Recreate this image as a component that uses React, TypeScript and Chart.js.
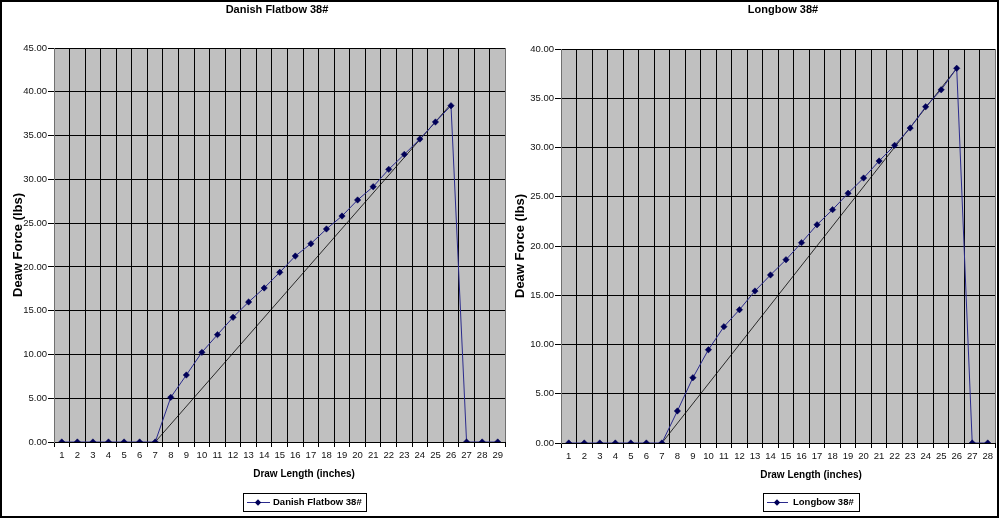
import React, { useEffect, useRef } from 'react';
import { Chart, registerables } from 'chart.js';

Chart.register(...registerables);

// ---------- Data ----------
const flatbowLengths = ['1', '2', '3', '4', '5', '6', '7', '8', '9', '10', '11', '12', '13', '14', '15', '16', '17', '18', '19', '20', '21', '22', '23', '24', '25', '26', '27', '28', '29'];
const flatbowForce = [0, 0, 0, 0, 0, 0, 0, 5.1, 7.65, 10.24, 12.26, 14.24, 15.99, 17.59, 19.38, 21.24, 22.65, 24.33, 25.81, 27.64, 29.16, 31.14, 32.85, 34.6, 36.55, 38.41, 0, 0, 0];
const flatbowReference = [null, null, null, null, null, null, 0, null, null, null, null, null, null, null, null, null, null, null, null, null, null, null, null, null, null, 38.6, null, null, null];
const flatbowYTicks = { min: 0, max: 45, step: 5 };

const longbowLengths = ['1', '2', '3', '4', '5', '6', '7', '8', '9', '10', '11', '12', '13', '14', '15', '16', '17', '18', '19', '20', '21', '22', '23', '24', '25', '26', '27', '28'];
const longbowForce = [0, 0, 0, 0, 0, 0, 0, 3.25, 6.63, 9.47, 11.81, 13.53, 15.43, 17.06, 18.61, 20.34, 22.16, 23.69, 25.35, 26.9, 28.63, 30.22, 31.98, 34.14, 35.86, 38.04, 0, 0];
const longbowReference = [null, null, null, null, null, null, 0, null, null, null, null, null, null, null, null, null, null, null, null, null, null, null, null, null, null, 38.04, null, null];
const longbowYTicks = { min: 0, max: 40, step: 5 };

const xAxisTitle = 'Draw Length (inches)';
const yAxisTitle = 'Deaw Force (lbs)';

const FONT = "'Liberation Sans', Arial, sans-serif";
const SERIES_LINE = '#2a2a8c';
const SERIES_POINT = '#000058';

type Layout = {
  width: number;
  height: number;
  pad: { top: number; right: number; left: number };
  yWidth: number;
  xHeight: number;
  titleX: number;
  titleY: number;
  xTitleX: number;
  xTitleY: number;
  yTitleX: number;
  legend: { x: number; y: number; w: number; h: number; lineFrom: number; lineTo: number; marker: number; text: number };
};

function makeDecor(title: string, seriesName: string, L: Layout) {
  return {
    id: 'decor',
    beforeDraw(chart: any) {
      const { ctx, chartArea: a } = chart;
      ctx.save();
      ctx.fillStyle = '#c0c0c0';
      ctx.fillRect(a.left, a.top, a.right - a.left, a.bottom - a.top);
      ctx.restore();
    },
    beforeDatasetsDraw(chart: any) {
      const { ctx, chartArea: a } = chart;
      ctx.save();
      ctx.strokeStyle = '#707070';
      ctx.lineWidth = 1;
      ctx.beginPath();
      ctx.moveTo(Math.round(a.left) + 0.5, a.top);
      ctx.lineTo(Math.round(a.left) + 0.5, a.bottom);
      ctx.moveTo(Math.round(a.right) - 0.5, a.top);
      ctx.lineTo(Math.round(a.right) - 0.5, a.bottom);
      ctx.stroke();
      ctx.restore();
    },
    afterDraw(chart: any) {
      const { ctx, chartArea: a } = chart;
      ctx.save();
      ctx.fillStyle = '#000';
      ctx.textAlign = 'center';
      ctx.textBaseline = 'middle';
      // Title
      ctx.font = `bold 11px ${FONT}`;
      ctx.fillText(title, L.titleX, L.titleY);
      // X axis title
      ctx.font = `bold 10px ${FONT}`;
      ctx.fillText(xAxisTitle, L.xTitleX, L.xTitleY);
      // Y axis title
      ctx.save();
      ctx.translate(L.yTitleX, (a.top + a.bottom) / 2);
      ctx.rotate(-Math.PI / 2);
      ctx.font = `bold 13px ${FONT}`;
      ctx.fillText(yAxisTitle, 0, 0);
      ctx.restore();
      // Legend
      const g = L.legend;
      ctx.strokeStyle = '#000';
      ctx.lineWidth = 1;
      ctx.strokeRect(g.x + 0.5, g.y + 0.5, g.w, g.h);
      const my = g.y + g.h / 2 + 0.5;
      ctx.strokeStyle = SERIES_LINE;
      ctx.beginPath();
      ctx.moveTo(g.lineFrom, my);
      ctx.lineTo(g.lineTo, my);
      ctx.stroke();
      ctx.fillStyle = SERIES_POINT;
      ctx.beginPath();
      const r = 3.2;
      ctx.moveTo(g.marker, my - r);
      ctx.lineTo(g.marker + r, my);
      ctx.lineTo(g.marker, my + r);
      ctx.lineTo(g.marker - r, my);
      ctx.closePath();
      ctx.fill();
      ctx.fillStyle = '#000';
      ctx.textAlign = 'left';
      ctx.font = `bold 9.5px ${FONT}`;
      ctx.fillText(seriesName, g.text, my);
      ctx.restore();
    },
  };
}

function buildConfig(
  labels: string[],
  values: number[],
  reference: (number | null)[],
  yTicks: { min: number; max: number; step: number },
  title: string,
  seriesName: string,
  L: Layout
): any {
  return {
    type: 'line',
    data: {
      labels,
      datasets: [
        {
          label: seriesName,
          data: values,
          borderColor: SERIES_LINE,
          borderWidth: 1,
          pointStyle: 'rectRot',
          pointRadius: 3.2,
          pointBackgroundColor: SERIES_POINT,
          pointBorderColor: SERIES_POINT,
          pointBorderWidth: 0.5,
          tension: 0,
          fill: false,
        },
        {
          label: 'reference',
          data: reference,
          borderColor: '#000',
          borderWidth: 0.8,
          pointRadius: 0,
          spanGaps: true,
          tension: 0,
          fill: false,
        },
      ],
    },
    options: {
      responsive: false,
      animation: false,
      devicePixelRatio: 1,
      layout: { padding: { top: L.pad.top, right: L.pad.right, left: L.pad.left, bottom: 0 } },
      plugins: {
        legend: { display: false },
        title: { display: false },
        tooltip: { enabled: false },
      },
      scales: {
        x: {
          type: 'category',
          offset: true,
          grid: { offset: true, color: '#000', lineWidth: 1, tickLength: 5, drawTicks: true },
          border: { color: '#000', width: 1 },
          ticks: { color: '#111', font: { family: FONT, size: 9.5 }, padding: 3, maxRotation: 0, autoSkip: false },
          afterFit: (s: any) => { s.height = L.xHeight; },
        },
        y: {
          min: yTicks.min,
          max: yTicks.max,
          grid: { color: '#000', lineWidth: 1, tickLength: 6, drawTicks: true },
          border: { color: '#707070', width: 1 },
          ticks: {
            stepSize: yTicks.step,
            color: '#111',
            font: { family: FONT, size: 9.5 },
            padding: 1,
            callback: (v: any) => Number(v).toFixed(2),
          },
          afterFit: (s: any) => { s.width = L.yWidth; },
        },
      },
    },
    plugins: [makeDecor(title, seriesName, L)],
  };
}

const leftLayout: Layout = {
  width: 510,
  height: 519,
  pad: { top: 48, right: 2, left: 0 },
  yWidth: 54,
  xHeight: 77,
  titleX: 277,
  titleY: 10,
  xTitleX: 304,
  xTitleY: 474,
  yTitleX: 18,
  legend: { x: 243, y: 493, w: 123, h: 18, lineFrom: 247, lineTo: 270, marker: 258, text: 273 },
};

const rightLayout: Layout = {
  width: 490,
  height: 519,
  pad: { top: 49, right: 0, left: 0 },
  yWidth: 51,
  xHeight: 76,
  titleX: 273,
  titleY: 10,
  xTitleX: 301,
  xTitleY: 475,
  yTitleX: 10,
  legend: { x: 253, y: 493, w: 96, h: 18, lineFrom: 257, lineTo: 278, marker: 267, text: 283 },
};

function ChartCanvas({ config, layout, left }: { config: any; layout: Layout; left: number }) {
  const ref = useRef<HTMLCanvasElement | null>(null);
  useEffect(() => {
    if (!ref.current) return;
    const chart = new Chart(ref.current, config);
    return () => chart.destroy();
  }, []);
  return (
    <canvas
      ref={ref}
      width={layout.width}
      height={layout.height}
      style={{ position: 'absolute', left, top: 0, width: layout.width, height: layout.height }}
    />
  );
}

export default function App() {
  const leftConfig = buildConfig(flatbowLengths, flatbowForce, flatbowReference, flatbowYTicks, 'Danish Flatbow 38#', 'Danish Flatbow 38#', leftLayout);
  const rightConfig = buildConfig(longbowLengths, longbowForce, longbowReference, longbowYTicks, 'Longbow 38#', 'Longbow 38#', rightLayout);
  return (
    <div style={{ position: 'absolute', left: 0, top: 0, width: 1000, height: 519, background: '#fff', overflow: 'hidden' }}>
      <ChartCanvas config={leftConfig} layout={leftLayout} left={0} />
      <ChartCanvas config={rightConfig} layout={rightLayout} left={510} />
      <div
        style={{
          position: 'absolute',
          left: 0,
          top: 0,
          width: 999,
          height: 518,
          border: '2px solid #000',
          boxSizing: 'border-box',
          pointerEvents: 'none',
        }}
      />
    </div>
  );
}
